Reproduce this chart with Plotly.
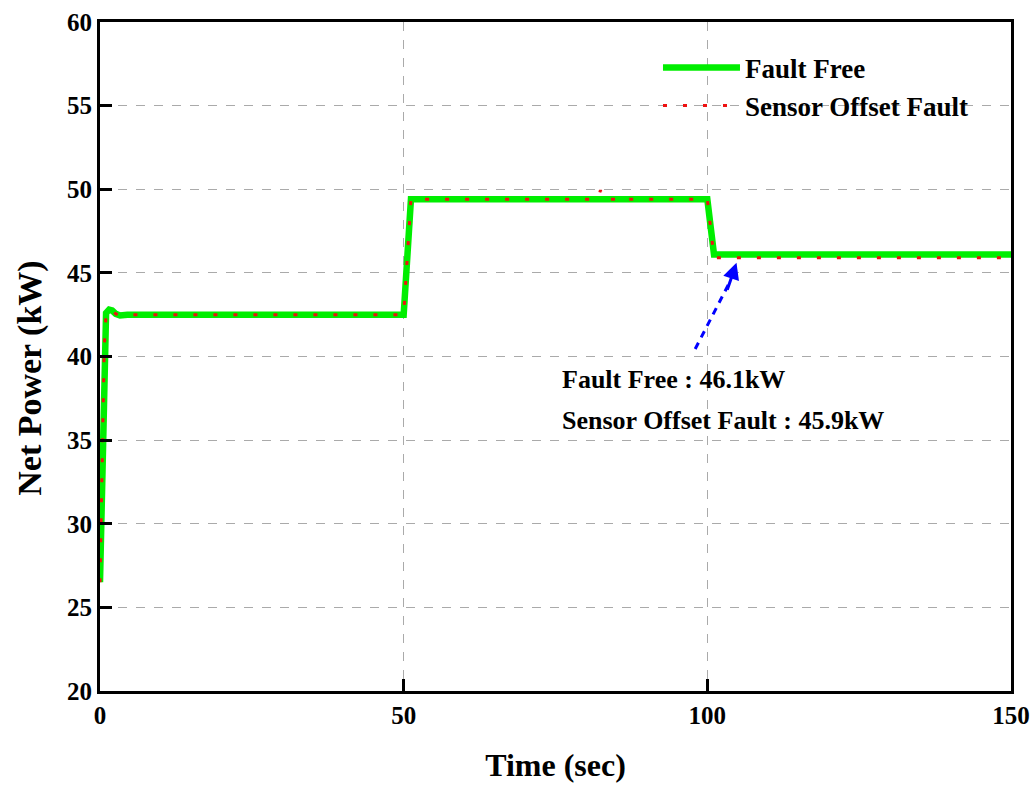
import plotly.graph_objects as go

# Net power response, fault-free vs. sensor offset fault
time_ff = [0, 0.3, 0.7, 1.0, 1.5, 2.0, 2.6, 3.3, 4.5, 50.0, 51.2, 100.0, 101.1, 150]
power_ff = [26.5, 33.0, 40.5, 42.6, 42.8, 42.75, 42.55, 42.45, 42.5, 42.5, 49.4, 49.4, 46.1, 46.1]

time_sf = [0, 0.3, 0.7, 1.0, 1.5, 2.0, 2.6, 3.3, 4.5, 50.0, 51.2, 82.0, 82.4, 82.8, 85.5, 86.0, 86.5,
           100.0, 101.1, 150]
power_sf = [26.5, 33.0, 40.5, 42.6, 42.8, 42.75, 42.55, 42.45, 42.5, 42.5, 49.4, 49.4, 49.95, 49.4,
            49.4, 49.55, 49.4, 49.4, 45.9, 45.9]

steady_ff = 46.1
steady_sf = 45.9

x_ticks = [0, 50, 100, 150]
y_ticks = [20, 25, 30, 35, 40, 45, 50, 55, 60]

font_family = "Liberation Serif, Times New Roman, serif"

fig = go.Figure()
fig.add_trace(go.Scatter(
    x=time_ff, y=power_ff, mode="lines", name="<b>Fault Free</b>",
    line=dict(color="#00ee00", width=6.5),
))
fig.add_trace(go.Scatter(
    x=time_sf, y=power_sf, mode="lines", name="<b>Sensor Offset Fault</b>",
    line=dict(color="#ee1111", width=3, dash="4px,16px"),
))

# Dashed arrow pointing at the steady-state level after 100 s
fig.add_shape(type="line", x0=98.0, y0=40.45, x1=103.9, y1=44.6,
              line=dict(color="#0000ff", width=3, dash="7px,6px"))
fig.add_annotation(x=104.8, y=45.6, ax=103.2, ay=43.9, xref="x", yref="y",
                   axref="x", ayref="y", text="", showarrow=True,
                   arrowhead=2, arrowsize=1.1, arrowwidth=3, arrowcolor="#0000ff")

fig.add_annotation(x=75.7, y=38.6, xref="x", yref="y", xanchor="left",
                   text=f"<b>Fault Free : {steady_ff}kW</b>", showarrow=False,
                   font=dict(family=font_family, size=26, color="black"))
fig.add_annotation(x=75.7, y=36.2, xref="x", yref="y", xanchor="left",
                   text=f"<b>Sensor Offset Fault : {steady_sf}kW</b>", showarrow=False,
                   font=dict(family=font_family, size=26, color="black"))

# Y-axis title
fig.add_annotation(x=-0.077, y=0.468, xref="paper", yref="paper",
                   xanchor="center", yanchor="middle", textangle=-90,
                   text="<b>Net Power (kW)</b>", showarrow=False,
                   font=dict(family=font_family, size=34, color="black"))

axis_common = dict(
    showline=True, linecolor="black", linewidth=3, mirror=True,
    ticks="inside", ticklen=12, tickwidth=3, tickcolor="black",
    showgrid=True, gridcolor="#aaaaaa", griddash="dash", gridwidth=1,
    zeroline=False, automargin=False,
    tickfont=dict(family=font_family, size=25, color="black"),
)

fig.update_xaxes(
    range=[0, 150], tickvals=x_ticks, ticktext=[f"<b>{v}</b>" for v in x_ticks],
    title=dict(text="<b>Time (sec)</b>", font=dict(family=font_family, size=32, color="black"),
               standoff=26),
    **axis_common,
)
fig.update_yaxes(
    range=[20, 60], tickvals=y_ticks, ticktext=[f"<b>{v}</b>" for v in y_ticks],
    **axis_common,
)

fig.update_layout(
    width=1033, height=787,
    margin=dict(l=100, r=22, t=22, b=96),
    plot_bgcolor="white", paper_bgcolor="white",
    showlegend=True,
    legend=dict(x=0.6125, y=0.968, xanchor="left", yanchor="top",
                bgcolor="rgba(0,0,0,0)", borderwidth=0,
                font=dict(family=font_family, size=27, color="black"),
                itemwidth=77, tracegroupgap=0),
)

fig.write_html("out.html")
